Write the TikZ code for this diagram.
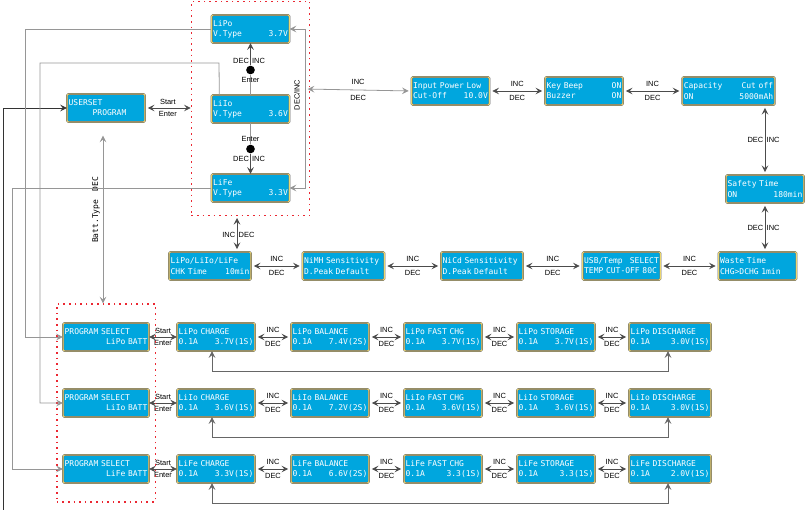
\documentclass[tikz,border=0pt]{standalone}
\usepackage{fontspec}
\setmainfont{Liberation Sans}
\newfontfamily\lcdfont{DejaVu Sans Mono}[Scale=1]
\usetikzlibrary{arrows.meta,positioning,fit,calc}
\definecolor{lcdblue}{RGB}{0,166,222}
\definecolor{lcdgold}{RGB}{236,214,110}
\definecolor{linegray}{RGB}{150,150,150}
\definecolor{grpred}{RGB}{235,40,50}
\newcommand{\lcdfnt}{\lcdfont\fontsize{6}{7.6}\selectfont}
\newcommand{\lblfnt}{\fontsize{5.6}{6.5}\selectfont}

\begin{document}
\begin{tikzpicture}[x=0.75pt,y=-0.75pt,
	lcd/.style={rectangle,draw=black!60,line width=0.35pt,double=lcdgold,double distance=0.7pt,fill=lcdblue,
		rounded corners=1pt,text=white,font=\lcdfnt,inner xsep=1.2pt,inner ysep=1pt,
		minimum height=21pt,text width=#1,align=left},
	lcd/.default=56pt,
	link/.style={{Stealth[length=5pt,width=5pt,inset=2pt]}-{Stealth[length=5pt,width=5pt,inset=2pt]},line width=0.6pt,draw=black!70,shorten <=2pt,shorten >=2pt},
	into/.style={-{Stealth[length=5pt,width=5pt,inset=2pt]},line width=0.6pt,draw=linegray},
	lbl/.style={font=\lblfnt,inner sep=1pt},
	grp/.style={rectangle,draw=grpred,color=grpred,line width=1pt,dash pattern=on 1.2pt off 3pt}]
	\useasboundingbox (0,0) rectangle (807,510);

	% battery type screens
	\node[lcd] (lipo) at (250.5,29) {LiPo\\V.Type\hfill 3.7V};
	\node[lcd] (liio) at (250.5,109) {LiIo\\V.Type\hfill 3.6V};
	\node[lcd] (life) at (250.5,188) {LiFe\\V.Type\hfill 3.3V};
	\node[grp,fit=(lipo)(life),inner xsep=15pt,inner ysep=10pt] (vtype) {};
	\node[lcd] (userset) at (106,108) {USERSET\\\hspace*{3em}PROGRAM};

	\node[circle,fill=black,inner sep=0pt,minimum size=6.5pt] (dot1) at (250.5,70) {};
	\node[circle,fill=black,inner sep=0pt,minimum size=6.5pt] (dot2) at (250.5,149) {};
	\draw[into,draw=black!70] (dot1) -- (lipo.south);
	\draw[linegray,line width=0.6pt] (liio.north) -- (dot1);
	\draw[linegray,line width=0.6pt] (liio.south) -- (dot2);
	\draw[into,draw=black!70] (dot2) -- (life.north);
	\node[lbl,left=0pt of lipo.south,yshift=-13pt,anchor=east] {DEC};
	\node[lbl,right=0pt of lipo.south,yshift=-13pt,anchor=west] {INC};
	\node[lbl,below=1pt of dot1] {Enter};
	\node[lbl,above=1pt of dot2] {Enter};
	\node[lbl,left=0pt of life.north,yshift=11pt,anchor=east] {DEC};
	\node[lbl,right=0pt of life.north,yshift=11pt,anchor=west] {INC};

	% setup menu
	\node[lcd] (input) at (450.5,91) {Input Power Low\\Cut-Off\hfill 10.0V};
	\node[lcd] (beep) at (584,91) {Key Beep\hfill ON\\Buzzer\hfill ON};
	\node[lcd=67pt] (cap) at (728.5,91) {Capacity\hfill Cut off\\ON\hfill 5000mAh};
	\node[lcd] (safety) at (765,189) {Safety Time\\ON\hfill 180min};
	\node[lcd] (waste) at (757.5,266) {Waste Time\\CHG>DCHG 1min};
	\node[lcd] (usb) at (621.5,266) {USB/Temp\hfill SELECT\\TEMP CUT-OFF 80C};
	\node[lcd=59pt] (nicd) at (482,266) {NiCd Sensitivity\\D.Peak Default};
	\node[lcd=59pt] (nimh) at (343.5,266) {NiMH Sensitivity\\D.Peak Default};
	\node[lcd=59pt] (chk) at (210,266) {LiPo/LiIo/LiFe\\CHK Time\hfill 10min};

	\coordinate (bus) at (305,89);
	\draw[into] (bus) |- (lipo.east);
	\draw[into] (bus) |- (life.east);
	\node[lbl,rotate=90] (decinc) at (297,95) {DEC/INC};
	\draw[link,draw=linegray] (bus) -- (input.west) node[lbl,midway,above=3pt] {INC} node[lbl,midway,below=3pt] {DEC};
	\draw[link] (input) -- (beep) node[lbl,midway,above=2pt] {INC} node[lbl,midway,below=2pt] {DEC};
	\draw[link] (beep) -- (cap) node[lbl,midway,above=2pt] {INC} node[lbl,midway,below=2pt] {DEC};
	\draw[link] (safety.north |- cap.south) -- (safety.north) node[lbl,midway,left=0pt] {DEC} node[lbl,midway,right=0pt] {INC};
	\draw[link] (safety.south) -- (safety.south |- waste.north) node[lbl,midway,left=0pt] {DEC} node[lbl,midway,right=0pt] {INC};
	\draw[link] (waste) -- (usb) node[lbl,midway,above=2pt] {INC} node[lbl,midway,below=2pt] {DEC};
	\draw[link] (usb) -- (nicd) node[lbl,midway,above=2pt] {INC} node[lbl,midway,below=2pt] {DEC};
	\draw[link] (nicd) -- (nimh) node[lbl,midway,above=2pt] {INC} node[lbl,midway,below=2pt] {DEC};
	\draw[link] (nimh) -- (chk) node[lbl,midway,above=2pt] {INC} node[lbl,midway,below=2pt] {DEC};
	\coordinate (vdrop) at (237,218);
	\draw[link,shorten <=0pt] (vdrop) -- (vdrop |- chk.north) node[lbl,midway,left=0pt] {INC} node[lbl,midway,right=0pt] {DEC};
	\draw[link,shorten >=0pt] (userset) -- (vtype.west |- userset) node[lbl,midway,above=1pt] {Start} node[lbl,midway,below=1pt] {Enter};

	% program rows
	\foreach \bt/\y/\vc/\vb/\vf/\vs/\vd in {LiPo/337/3.7V/7.4V/3.7V/3.7V/3.0V,LiIo/403/3.6V/7.2V/3.6V/3.6V/3.0V,LiFe/469/3.3V/6.6V/3.3/3.3/2.0V}{
		\node[lcd=62pt] (ps\bt) at (106,\y) {PROGRAM SELECT\\\hfill \bt{} BATT};
		\node[lcd] (chg\bt) at (216,\y) {\bt{} CHARGE\\0.1A\hfill\vc(1S)};
		\node[lcd] (bal\bt) at (330,\y) {\bt{} BALANCE\\0.1A\hfill\vb(2S)};
		\node[lcd] (fast\bt) at (443,\y) {\bt{} FAST CHG\\0.1A\hfill\vf(1S)};
		\node[lcd] (sto\bt) at (556,\y) {\bt{} STORAGE\\0.1A\hfill\vs(1S)};
		\node[lcd=59pt] (dis\bt) at (670,\y) {\bt{} DISCHARGE\\0.1A\hfill\vd(1S)};
		\draw[link,shorten <=0pt,shorten >=0pt] (ps\bt) -- (chg\bt) node[lbl,midway,above=1pt] {Start} node[lbl,midway,below=1pt] {Enter};
		\draw[link] (chg\bt) -- (bal\bt) node[lbl,midway,above=2pt] {INC} node[lbl,midway,below=2pt] {DEC};
		\draw[link] (bal\bt) -- (fast\bt) node[lbl,midway,above=2pt] {INC} node[lbl,midway,below=2pt] {DEC};
		\draw[link] (fast\bt) -- (sto\bt) node[lbl,midway,above=2pt] {INC} node[lbl,midway,below=2pt] {DEC};
		\draw[link] (sto\bt) -- (dis\bt) node[lbl,midway,above=2pt] {INC} node[lbl,midway,below=2pt] {DEC};
		\draw[link,draw=black!60,shorten <=0pt,shorten >=0pt] ($(dis\bt.south)+(-2,0)$) -- ++(0,20) -| ($(chg\bt.south)+(-4,0)$);
	}
	\node[grp,fit=(psLiPo)(psLiFe),inner xsep=4.5pt,inner ysep=14pt] (psgrp) {};
	\draw[link,draw=linegray,shorten <=10pt,shorten >=0pt] (userset.south -| 103,0) -- (psgrp.north -| 103,0);
	\node[lbl,rotate=90,font=\lcdfnt,text=black] (batttype) at (96,210) {Batt.Type\quad DEC};

	% return paths to program select
	\coordinate (bottom) at (3,510);
	\draw[into,draw=black!80] (bottom) |- (userset.west);
	\draw[into] (lipo.west) -- (25,29) |- (psLiPo.west);
	\draw[into] ($(liio.north west)+(8,0)$) -- (219,63) -- (40,63) |- (psLiIo.west);
	\draw[into] (life.west) -- (12,188) |- (psLiFe.west);
\end{tikzpicture}
\end{document}
